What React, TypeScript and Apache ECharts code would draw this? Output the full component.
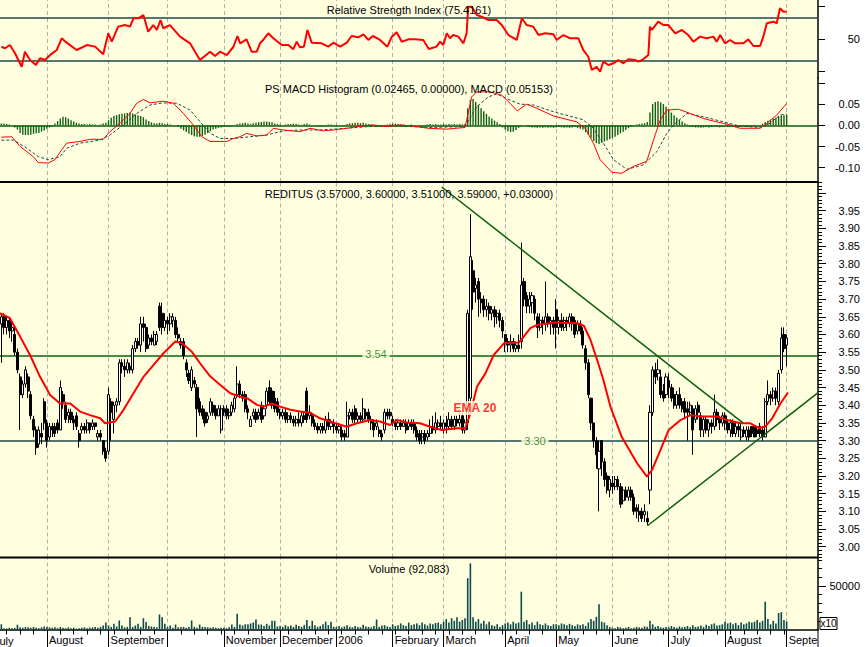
import React, { useEffect, useRef } from 'react';
import * as echarts from 'echarts';

const FONT = 'Liberation Sans, Arial, Helvetica, sans-serif';

// trading-day index of the first session of each month (Aug 2005 .. Sep 2006)
const monthStarts = [17, 40, 62, 83, 104, 125, 146, 165, 188, 207, 228, 249, 270, 293];
const monthLabels = ['August', 'September', '', 'November', 'December', '2006', 'February', 'March', 'April', 'May', 'June', 'July', 'August', 'Septe'];

const priceLabels = ['3.00', '3.05', '3.10', '3.15', '3.20', '3.25', '3.30', '3.35', '3.40', '3.45', '3.50', '3.55', '3.60', '3.65', '3.70', '3.75', '3.80', '3.85', '3.90', '3.95'];
const macdLabels = ['0.05', '0.00', '-0.05', '-0.10'];
const rsiLabels = ['50'];
const volumeLabels = ['50000'];

// candles [open, close, low, high]
const jul05 = [[3.63,3.65,3.52,3.66],[3.65,3.62,3.60,3.66],[3.62,3.64,3.60,3.65],[3.64,3.61,3.59,3.65],[3.61,3.62,3.58,3.64],[3.60,3.55,3.54,3.62],[3.55,3.50,3.49,3.56],[3.48,3.43,3.33,3.49],[3.43,3.46,3.42,3.47],[3.46,3.50,3.45,3.51],[3.48,3.44,3.42,3.49],[3.43,3.37,3.36,3.44],[3.36,3.33,3.31,3.37],[3.33,3.28,3.26,3.34],[3.29,3.33,3.28,3.34],[3.32,3.31,3.29,3.35],[3.41,3.35,3.33,3.42]];
const aug05 = [[3.35,3.30,3.28,3.36],[3.31,3.34,3.30,3.35],[3.34,3.33,3.31,3.35],[3.34,3.32,3.31,3.35],[3.35,3.33,3.32,3.36],[3.33,3.45,3.33,3.47],[3.43,3.41,3.39,3.44],[3.40,3.36,3.35,3.41],[3.37,3.38,3.35,3.39],[3.38,3.36,3.35,3.39],[3.36,3.35,3.33,3.37],[3.37,3.34,3.33,3.38],[3.32,3.30,3.28,3.33],[3.33,3.34,3.32,3.35],[3.34,3.33,3.32,3.35],[3.33,3.35,3.32,3.36],[3.35,3.33,3.32,3.35],[3.34,3.35,3.33,3.36],[3.35,3.34,3.33,3.35],[3.31,3.32,3.30,3.33],[3.32,3.31,3.30,3.33],[3.30,3.27,3.26,3.30],[3.27,3.25,3.24,3.28]];
const sep05 = [[3.27,3.43,3.26,3.45],[3.41,3.38,3.30,3.42],[3.36,3.40,3.32,3.41],[3.40,3.41,3.38,3.42],[3.41,3.52,3.40,3.53],[3.52,3.51,3.49,3.53],[3.51,3.50,3.48,3.53],[3.50,3.52,3.49,3.53],[3.51,3.50,3.49,3.52],[3.50,3.56,3.49,3.57],[3.56,3.58,3.55,3.59],[3.58,3.57,3.56,3.59],[3.57,3.63,3.55,3.65],[3.63,3.62,3.58,3.65],[3.62,3.56,3.55,3.63],[3.57,3.59,3.56,3.60],[3.59,3.58,3.57,3.60],[3.57,3.60,3.57,3.61],[3.58,3.60,3.57,3.61],[3.68,3.62,3.61,3.69],[3.66,3.62,3.60,3.69],[3.62,3.64,3.61,3.66]];
const oct05 = [[3.64,3.63,3.60,3.65],[3.63,3.65,3.61,3.66],[3.64,3.65,3.62,3.66],[3.64,3.60,3.59,3.65],[3.60,3.59,3.58,3.62],[3.58,3.57,3.56,3.59],[3.58,3.54,3.53,3.59],[3.52,3.50,3.48,3.53],[3.49,3.47,3.46,3.50],[3.45,3.50,3.44,3.51],[3.47,3.46,3.45,3.48],[3.45,3.39,3.31,3.46],[3.41,3.38,3.37,3.42],[3.39,3.37,3.36,3.40],[3.38,3.35,3.34,3.39],[3.36,3.37,3.35,3.38],[3.38,3.41,3.37,3.42],[3.40,3.38,3.37,3.41],[3.39,3.37,3.36,3.40],[3.37,3.39,3.37,3.40],[3.33,3.39,3.32,3.40]];
const nov05 = [[3.39,3.38,3.37,3.40],[3.39,3.37,3.36,3.40],[3.37,3.38,3.36,3.39],[3.38,3.40,3.37,3.41],[3.39,3.42,3.38,3.43],[3.43,3.46,3.42,3.51],[3.46,3.43,3.42,3.47],[3.43,3.42,3.41,3.44],[3.43,3.39,3.38,3.44],[3.39,3.38,3.36,3.40],[3.34,3.36,3.34,3.37],[3.37,3.38,3.36,3.39],[3.38,3.36,3.35,3.39],[3.37,3.38,3.36,3.39],[3.40,3.36,3.35,3.41],[3.37,3.39,3.36,3.40],[3.40,3.44,3.39,3.45],[3.45,3.41,3.40,3.47],[3.44,3.40,3.39,3.45],[3.42,3.39,3.38,3.44],[3.41,3.38,3.37,3.42]];
const dec05 = [[3.38,3.37,3.36,3.39],[3.37,3.38,3.36,3.39],[3.38,3.36,3.35,3.39],[3.36,3.37,3.35,3.38],[3.37,3.36,3.35,3.38],[3.36,3.35,3.34,3.37],[3.35,3.36,3.34,3.37],[3.36,3.35,3.34,3.38],[3.35,3.37,3.34,3.38],[3.37,3.36,3.35,3.38],[3.44,3.36,3.35,3.45],[3.37,3.38,3.36,3.40],[3.37,3.35,3.34,3.38],[3.35,3.34,3.33,3.36],[3.34,3.33,3.32,3.35],[3.33,3.34,3.32,3.35],[3.34,3.33,3.32,3.35],[3.33,3.36,3.32,3.37],[3.36,3.34,3.33,3.38],[3.34,3.35,3.33,3.36],[3.35,3.34,3.32,3.36]];
const jan06 = [[3.34,3.33,3.32,3.35],[3.33,3.34,3.32,3.35],[3.33,3.31,3.30,3.34],[3.32,3.31,3.30,3.33],[3.31,3.37,3.31,3.41],[3.37,3.38,3.36,3.39],[3.38,3.36,3.35,3.39],[3.39,3.36,3.35,3.40],[3.36,3.37,3.35,3.38],[3.37,3.36,3.35,3.38],[3.36,3.39,3.35,3.42],[3.38,3.37,3.36,3.39],[3.38,3.36,3.35,3.39],[3.36,3.35,3.33,3.37],[3.35,3.33,3.31,3.36],[3.34,3.35,3.33,3.36],[3.33,3.32,3.31,3.34],[3.32,3.31,3.30,3.33],[3.33,3.38,3.32,3.39],[3.38,3.37,3.36,3.39],[3.38,3.37,3.36,3.39]];
const feb06 = [[3.36,3.35,3.34,3.37],[3.35,3.34,3.33,3.36],[3.34,3.35,3.33,3.36],[3.35,3.34,3.33,3.36],[3.34,3.35,3.34,3.36],[3.35,3.33,3.32,3.36],[3.34,3.35,3.33,3.36],[3.35,3.34,3.33,3.36],[3.35,3.33,3.32,3.36],[3.33,3.31,3.30,3.34],[3.32,3.30,3.29,3.33],[3.31,3.32,3.29,3.33],[3.32,3.30,3.29,3.33],[3.31,3.32,3.30,3.33],[3.32,3.34,3.31,3.36],[3.34,3.33,3.32,3.37],[3.33,3.35,3.32,3.38],[3.34,3.35,3.33,3.36],[3.35,3.34,3.33,3.37]];
const mar06 = [[3.33,3.35,3.32,3.36],[3.35,3.34,3.32,3.37],[3.34,3.36,3.33,3.38],[3.36,3.34,3.33,3.37],[3.34,3.36,3.33,3.37],[3.36,3.35,3.34,3.37],[3.35,3.36,3.34,3.38],[3.37,3.33,3.32,3.38],[3.33,3.35,3.32,3.36],[3.35,3.66,3.33,3.67],[3.42,3.82,3.40,3.94],[3.78,3.72,3.67,3.81],[3.73,3.74,3.69,3.76],[3.75,3.70,3.65,3.76],[3.70,3.69,3.66,3.72],[3.70,3.67,3.65,3.71],[3.67,3.68,3.65,3.70],[3.68,3.66,3.64,3.69],[3.66,3.67,3.64,3.68],[3.67,3.65,3.62,3.68],[3.65,3.66,3.63,3.67],[3.66,3.64,3.62,3.67],[3.64,3.61,3.59,3.65]];
const apr06 = [[3.60,3.58,3.55,3.60],[3.58,3.57,3.55,3.59],[3.57,3.58,3.55,3.60],[3.58,3.56,3.55,3.59],[3.56,3.57,3.55,3.58],[3.57,3.56,3.55,3.60],[3.58,3.74,3.56,3.86],[3.75,3.70,3.68,3.76],[3.71,3.68,3.66,3.72],[3.68,3.70,3.66,3.72],[3.69,3.71,3.66,3.72],[3.70,3.66,3.64,3.71],[3.65,3.62,3.59,3.66],[3.62,3.64,3.61,3.66],[3.64,3.63,3.60,3.65],[3.63,3.65,3.61,3.75],[3.65,3.63,3.62,3.66],[3.63,3.64,3.60,3.65],[3.64,3.62,3.60,3.65]];
const may06 = [[3.67,3.62,3.56,3.70],[3.62,3.64,3.60,3.65],[3.64,3.62,3.61,3.66],[3.62,3.64,3.61,3.65],[3.64,3.63,3.61,3.65],[3.63,3.65,3.62,3.66],[3.65,3.63,3.61,3.66],[3.64,3.60,3.59,3.65],[3.61,3.63,3.60,3.64],[3.63,3.61,3.60,3.64],[3.61,3.57,3.56,3.62],[3.56,3.52,3.50,3.57],[3.52,3.43,3.42,3.53],[3.42,3.35,3.33,3.42],[3.35,3.30,3.28,3.35],[3.30,3.26,3.22,3.31],[3.22,3.27,3.10,3.30],[3.30,3.24,3.20,3.30],[3.24,3.19,3.17,3.25],[3.20,3.16,3.15,3.21],[3.16,3.19,3.14,3.20]];
const jun06 = [[3.18,3.17,3.15,3.20],[3.17,3.19,3.16,3.20],[3.19,3.17,3.16,3.20],[3.17,3.12,3.11,3.18],[3.13,3.16,3.12,3.17],[3.16,3.14,3.13,3.17],[3.14,3.16,3.13,3.17],[3.16,3.14,3.13,3.17],[3.14,3.10,3.09,3.15],[3.11,3.10,3.08,3.12],[3.10,3.09,3.07,3.12],[3.10,3.08,3.07,3.11],[3.09,3.10,3.07,3.12],[3.08,3.07,3.06,3.10],[3.16,3.38,3.12,3.40],[3.38,3.50,3.37,3.51],[3.50,3.48,3.46,3.52],[3.49,3.50,3.47,3.53],[3.48,3.43,3.42,3.50],[3.44,3.42,3.41,3.46],[3.43,3.48,3.42,3.49]];
const jul06 = [[3.47,3.45,3.42,3.49],[3.45,3.42,3.41,3.46],[3.43,3.40,3.39,3.45],[3.40,3.43,3.39,3.44],[3.43,3.40,3.39,3.45],[3.41,3.39,3.38,3.42],[3.41,3.38,3.36,3.42],[3.39,3.38,3.30,3.41],[3.38,3.40,3.37,3.41],[3.39,3.33,3.26,3.40],[3.36,3.39,3.35,3.40],[3.40,3.38,3.36,3.41],[3.37,3.33,3.31,3.38],[3.33,3.36,3.31,3.37],[3.36,3.33,3.32,3.37],[3.33,3.35,3.31,3.36],[3.35,3.34,3.32,3.36],[3.34,3.38,3.33,3.43],[3.38,3.36,3.34,3.39],[3.36,3.35,3.33,3.37],[3.35,3.37,3.34,3.38]];
const aug06 = [[3.37,3.35,3.33,3.38],[3.35,3.33,3.32,3.36],[3.33,3.35,3.31,3.36],[3.35,3.32,3.31,3.36],[3.32,3.34,3.31,3.35],[3.34,3.33,3.31,3.35],[3.31,3.33,3.30,3.35],[3.33,3.32,3.31,3.34],[3.31,3.33,3.30,3.34],[3.33,3.31,3.30,3.34],[3.34,3.32,3.31,3.34],[3.34,3.31,3.31,3.34],[3.33,3.32,3.31,3.34],[3.34,3.32,3.31,3.35],[3.33,3.31,3.30,3.34],[3.31,3.41,3.31,3.42],[3.41,3.43,3.40,3.47],[3.43,3.42,3.40,3.44],[3.42,3.44,3.41,3.45],[3.44,3.42,3.40,3.45],[3.41,3.49,3.40,3.50],[3.50,3.59,3.49,3.62],[3.60,3.56,3.55,3.62]];
const sep06 = [[3.57,3.59,3.51,3.60]];
const candles = [...jul05, ...aug05, ...sep05, ...oct05, ...nov05, ...dec05, ...jan06, ...feb06, ...mar06, ...apr06, ...may06, ...jun06, ...jul06, ...aug06, ...sep06];

// volume (x10 shares), one per session
const volJul05 = [6000,1500,1200,2000,1500,1800,5500,2500,2000,3000,2500,2000,3000,2000,1500,2500,3500];
const volAug05 = [3000,2500,2000,2500,1500,3000,2000,1500,2500,1500,2000,1000,1500,2000,2500,1500,2000,2500,3000,2000,3000,4500,8000];
const volSep05 = [4600,3000,6500,3500,10400,4600,2500,3000,14200,3000,4600,6500,3000,13000,8500,4000,3500,3000,2500,17300,14200,6500];
const volOct05 = [3000,4600,2000,5700,2500,3000,3000,2000,3000,10400,3000,2000,5700,3000,3000,2500,2000,2500,2000,1500,2000];
const volNov05 = [2000,1500,2500,5700,3000,18100,5700,4600,6000,6000,7000,8000,11500,5700,5700,4000,6500,4600,10000,10000,3500];
const volDec05 = [4000,3000,5000,3500,4500,3000,5500,4000,3000,5000,11000,4000,10000,5000,3000,4000,6000,9000,5000,9000,3000];
const volJan06 = [3000,4000,2500,3500,5000,3000,2500,4000,3000,2500,5500,3500,3000,2500,4000,11500,3000,4500,5000,3500,3000];
const volFeb06 = [6000,4000,5000,7000,5000,4000,8000,5000,6000,7000,5000,8000,6000,4500,7000,6000,7500,8000,6000];
const volMar06 = [9000,12000,8000,13000,10000,14000,9000,11000,13000,59000,76000,14000,9000,12000,7000,10000,6000,9000,5000,4000,6000,3000,5000];
const volApr06 = [7000,8000,6000,9000,7000,8000,43500,9000,11000,6000,8000,5000,9000,6000,5000,7000,5000,4000,6000];
const volMay06 = [6000,5000,7000,6000,5000,6500,5000,4000,6000,5000,6000,4000,8000,12000,10000,14600,29000,9000,8000,5000,3000];
const volJun06 = [2000,1500,3000,2500,1500,2000,3000,1500,2000,3000,2500,2000,3500,3000,10000,6000,3000,4000,2500,2000,3000];
const volJul06 = [2500,4000,3000,2000,3500,2500,3000,4000,2500,5000,3000,3500,4500,3000,5500,4000,6000,7000,4500,5000,6000];
const volAug06 = [9000,7000,8000,6000,7500,5000,8000,6000,7000,9000,8000,9000,11000,8000,10000,32000,12000,6000,10000,7000,19000,20000,11000];
const volSep06 = [9208];
const volumes = [...volJul05, ...volAug05, ...volSep05, ...volOct05, ...volNov05, ...volDec05, ...volJan06, ...volFeb06, ...volMar06, ...volApr06, ...volMay06, ...volJun06, ...volJul06, ...volAug06, ...volSep06];

// PS MACD histogram, one per session
const histA = [0.004,0.004,0.003,0.002,0.000,-0.005,-0.010,-0.018,-0.022,-0.023,-0.023,-0.022,-0.020,-0.019,-0.018,-0.015,-0.012,
  -0.008,-0.005,-0.002,0.004,0.010,0.016,0.020,0.019,0.016,0.012,0.009,0.006,0.004,0.003,0.003,0.002,0.003,0.002,0.002,0.001,0.002,0.004,0.006,
  0.012,0.018,0.022,0.024,0.026,0.027,0.028,0.029,0.030,0.028,0.026,0.024,0.022,0.019,0.014,0.010,0.007,0.005,0.004,0.006,0.005,0.003,
  0.003,0.002,0.001,0.000,-0.004,-0.008,-0.012,-0.016,-0.020,-0.023,-0.026,-0.027,-0.027,-0.025,-0.022,-0.018,-0.014,-0.010,-0.008,-0.006,-0.005];
const histB = [-0.004,-0.003,-0.003,-0.002,0.001,0.003,0.004,0.005,0.006,0.004,0.003,0.005,0.006,0.007,0.008,0.009,0.009,0.008,0.007,0.004,0.003,
  0.002,0.001,0.002,0.003,0.003,0.004,0.003,0.002,0.001,0.003,0.004,0.002,0.000,-0.001,-0.002,-0.002,-0.001,0.001,0.002,0.002,0.001,
  0.001,0.000,-0.001,0.001,0.003,0.004,0.005,0.006,0.006,0.005,0.006,0.004,0.003,0.002,0.001,-0.001,-0.002,-0.001,0.001,0.002,0.003,
  0.004,0.004,0.003,0.002,0.002,0.001,0.001,0.002,0.001,0.000,-0.001,-0.001,0.001,0.002,0.003,0.002,0.003,0.002,0.002];
const histC = [0.003,0.002,0.003,0.002,0.003,0.002,0.003,0.002,0.003,0.040,0.060,0.062,0.055,0.048,0.040,0.033,0.027,0.021,0.016,0.011,0.007,0.003,-0.005,
  -0.010,-0.014,-0.016,-0.015,-0.011,-0.006,-0.002,0.000,-0.003,-0.004,-0.005,-0.005,-0.006,-0.005,-0.006,-0.005,-0.006,-0.005,-0.006,
  -0.005,-0.004,-0.005,-0.006,-0.005,-0.006,-0.005,-0.004,-0.006,-0.008,-0.010,-0.016,-0.022,-0.030,-0.037,-0.042,-0.044,-0.041,-0.038,-0.036,-0.033];
const histD = [-0.030,-0.027,-0.023,-0.019,-0.015,-0.011,-0.007,-0.003,0.001,0.002,0.003,0.004,0.005,0.008,0.030,0.050,0.055,0.057,0.054,0.050,0.044,
  0.037,0.030,0.024,0.018,0.013,0.009,0.005,0.002,-0.003,-0.004,-0.005,-0.005,-0.006,-0.005,-0.004,-0.005,-0.004,-0.003,-0.004,-0.005,-0.004,
  -0.003,-0.004,-0.003,-0.004,-0.005,-0.004,-0.003,-0.002,-0.003,-0.004,-0.003,-0.002,-0.001,0.001,0.004,0.008,0.011,0.013,0.016,0.018,0.021,0.023,0.024,
  0.025];
const macdHist = [...histA, ...histB, ...histC, ...histD];

// [session index, value] vertices
const rsiLine = [[0,42.6],[1.4,41.2],[3.2,44.2],[5.1,36.5],[7.6,24],[8.8,38],[10.7,30.3],[12.9,25.6],[14.4,31.9],[16.3,30.3],[18.2,35],[20.7,39.6],[22.5,50.5],[24.4,46.4],[28.1,39.6],[31.9,44.2],[35,42.7],[38,35.6],[39.9,55.1],[41.2,47.3],[43.6,61.3],[46.1,62.8],[48,61.3],[49.3,69.1],[51.1,69],[53,72.1],[54.8,56.6],[56.7,62.8],[58,58.2],[59.4,67.5],[60.4,59.8],[62.9,62.8],[66.7,52],[70.4,45.8],[74.1,30.3],[77.9,38],[79.7,34],[81.6,38],[84.1,34.9],[86.6,42.6],[88.1,52.6],[89.1,45.8],[91.5,49.5],[93.4,38],[95.3,38],[96.5,45.8],[97.7,48.9],[99.6,55.1],[101.5,50.5],[104.6,44.2],[107.1,44.2],[108.9,40.2],[110.2,47.3],[111.4,42.1],[112.9,42.7],[114.2,58.2],[115.8,46.4],[119.5,45.8],[122,42.7],[123.9,46.4],[126.4,42.7],[128.9,46.4],[130.7,52.6],[133.2,51.4],[135.1,54.2],[136.9,48.9],[138.6,52.6],[141.3,48.9],[144,42.7],[145.7,52],[147.5,56],[149.4,47.3],[151.9,49.5],[154.4,49.5],[157.4,48.9],[159.5,40.5],[162.4,42.7],[163.7,47.3],[164.9,44.2],[166.2,55.1],[167.4,50.5],[168.6,53.5],[170.5,52],[172.4,45.8],[173.6,55.1],[174.2,79.9],[175.5,79.9],[177.4,72.1],[179.2,70.6],[181.7,67.5],[184.8,67.5],[186.7,62.8],[189.2,53.5],[192.3,48.9],[194.2,69.1],[196,62.8],[198.5,61.3],[200.4,53.5],[202.9,55.1],[206,54.2],[207.2,48.9],[209.7,53.5],[212.2,50.5],[215.3,50.5],[217.1,39.6],[219,33.3],[220.3,21],[222.1,24],[223.4,19.4],[224.6,28.7],[226.5,25.6],[228.4,27.2],[230.2,30.3],[232.1,27.2],[234,30.9],[236.4,30.3],[237.7,28.7],[239.5,30.9],[241.4,35],[242,61.3],[242.7,58.2],[245.1,65.9],[247,62.8],[248.9,62.8],[251.4,55.1],[253.9,58.2],[256.3,53.5],[258.2,47.3],[260.7,52],[263.2,50.5],[265.7,52],[266.9,47.3],[268.2,53.5],[270,45.8],[271.9,48.9],[273.8,45.8],[276.9,45.8],[278.7,49.5],[280.6,43.3],[283.1,43.3],[284.3,52],[285.6,64.4],[288.1,65.9],[289.3,64.4],[290.5,78.4],[291.8,75.2],[293,75.4]];
const macdLine = [[0,-0.028],[3.9,-0.027],[7,-0.05],[9.5,-0.062],[11.9,-0.074],[13.8,-0.088],[17.5,-0.089],[20,-0.081],[22.5,-0.058],[24.4,-0.042],[29.4,-0.038],[33.1,-0.033],[38,-0.033],[40.5,-0.015],[44.3,0.005],[48,0.028],[50.5,0.052],[53,0.061],[55.5,0.053],[60.4,0.057],[64.2,0.052],[67.9,0.028],[71.6,0.001],[74.8,-0.027],[77.9,-0.038],[84.1,-0.038],[86.6,-0.031],[89.1,-0.027],[91.5,-0.019],[95.3,-0.025],[99,-0.023],[101.5,-0.007],[105.2,-0.011],[111.4,-0.015],[115.2,-0.007],[120.1,-0.013],[123.9,-0.011],[128.9,-0.007],[133.8,-0.002],[138.8,0.001],[143.8,-0.003],[148.8,0.001],[153.7,-0.002],[159.3,-0.007],[166.2,-0.009],[173,-0.005],[175.5,0.067],[177.4,0.079],[182.3,0.079],[186.7,0.071],[189.8,0.052],[192.5,0.034],[196,0.05],[199.8,0.04],[206,0.022],[214.7,0.008],[217.8,-0.007],[220.9,-0.042],[223.4,-0.081],[227.8,-0.111],[231.5,-0.113],[235.8,-0.097],[240.8,-0.085],[243.3,-0.035],[245.8,0.012],[248.3,0.036],[252.6,0.038],[257,0.028],[262,0.016],[267,0.008],[271.9,0.001],[275.6,-0.007],[283.1,-0.007],[285.6,0.005],[289.3,0.024],[293,0.0515]];
const signalLine = [[0,-0.035],[4.5,-0.035],[9.5,-0.054],[13.8,-0.074],[17.5,-0.081],[21.9,-0.074],[24.4,-0.054],[29.4,-0.042],[36.8,-0.035],[40.5,-0.023],[45.5,0.001],[50.5,0.028],[55.5,0.048],[60.4,0.053],[65.5,0.052],[70.4,0.036],[74.1,0.009],[78,-0.019],[81.6,-0.031],[86.6,-0.031],[92.8,-0.027],[99,-0.023],[105.2,-0.013],[111.4,-0.011],[118.9,-0.011],[128.9,-0.007],[138.8,-0.002],[148.8,-0.002],[159.3,-0.005],[173,-0.003],[177.4,0.044],[181.7,0.067],[184.8,0.074],[188.5,0.063],[193.5,0.05],[198.5,0.048],[206,0.032],[217.1,0.013],[220.9,-0.007],[224.6,-0.042],[228.4,-0.081],[233.4,-0.104],[239.6,-0.093],[244.6,-0.062],[248.3,-0.019],[250.8,0.001],[255.8,0.028],[262,0.02],[269.5,0.008],[275.6,-0.002],[283.1,-0.005],[286.8,0.005],[290.5,0.024],[293,0.027]];
const ema20 = [[-0.5,3.66],[3.2,3.646],[7,3.594],[10.7,3.542],[14.4,3.481],[18.2,3.429],[21.9,3.405],[25.7,3.405],[29.4,3.382],[33.1,3.372],[36.9,3.363],[38.7,3.349],[42.5,3.354],[45.6,3.387],[49.3,3.434],[53.1,3.481],[56.8,3.514],[60.5,3.547],[64.9,3.58],[67.4,3.575],[71.1,3.551],[74.2,3.518],[78,3.481],[81.7,3.457],[85.4,3.434],[89.2,3.424],[91.7,3.42],[95.4,3.401],[97.9,3.396],[101,3.405],[104.1,3.396],[107.8,3.387],[111.5,3.382],[115.1,3.379],[118.9,3.363],[122.6,3.354],[128.8,3.339],[132.6,3.349],[137.6,3.358],[141.3,3.354],[145,3.344],[147.5,3.358],[151.3,3.351],[156.2,3.349],[160,3.339],[164.3,3.33],[169.9,3.335],[173.1,3.335],[175,3.377],[177.5,3.453],[180.6,3.49],[183.7,3.542],[187.5,3.575],[193.1,3.577],[197.4,3.618],[199.9,3.627],[206.1,3.634],[214.9,3.632],[217.4,3.624],[219.8,3.585],[222.3,3.528],[224.5,3.475],[227.3,3.395],[231.5,3.31],[237.2,3.236],[240.9,3.198],[242.8,3.217],[245.9,3.273],[249,3.33],[253.4,3.358],[257.1,3.372],[260.9,3.368],[267.1,3.368],[270.8,3.358],[275.8,3.349],[279.5,3.349],[282.7,3.335],[285.1,3.34],[287.6,3.363],[290.7,3.405],[293.5,3.436]];
const resistanceLine = [[164.3, 4.017], [276.7, 3.35]];
const supportLine = [[241.2, 3.06], [304.5, 3.434]];
const levelHigh = 3.54;
const levelLow = 3.30;

const X_MIN = -0.5;
const X_MAX = 304.7;
const BG = '#ffffe0';

function buildOption() {
  const weekTicks = Array.from({ length: 59 }, (_, k) => 2 + 5 * k);
  const priceMajor = [...priceLabels.map(Number), 4.0];
  const priceMinor = Array.from({ length: 107 }, (_, k) => Math.round((2.97 + 0.01 * k) * 100) / 100);
  const gridMarks = monthStarts.map((v) => ({ xAxis: v }));
  const dashed = { color: '#b0b0b0', type: [4, 3], width: 1 };
  const labelMonthValues = monthStarts.filter((_, i) => monthLabels[i] !== '');
  const off = { show: false };

  const rightAxisBase = {
    type: 'value',
    position: 'right',
    splitLine: off, minorTick: off, minorSplitLine: off, splitArea: off,
    axisLine: { show: true, onZero: false, lineStyle: { color: '#000', width: 1.5 } },
    axisLabel: { align: 'right', margin: 42, fontSize: 11, color: '#000', fontFamily: FONT },
  };
  const minorAxis = (gridIndex: number, min: number, max: number, ticks: number[]) => ({
    type: 'value', position: 'right', gridIndex, min, max,
    axisLine: { show: false, onZero: false }, splitLine: off, minorTick: off, minorSplitLine: off, splitArea: off,
    axisLabel: { show: false },
    axisTick: { show: true, length: 4, customValues: ticks, lineStyle: { color: '#000' } },
  });
  const hiddenX = (gridIndex: number) => ({
    type: 'value', gridIndex, min: X_MIN, max: X_MAX, show: false,
    axisLine: { show: false, onZero: false }, axisTick: off, axisLabel: off, splitLine: off, minorTick: off, minorSplitLine: off,
  });

  const grids = [
    { left: 0, top: 0, width: 818, height: 78 },
    { left: 0, top: 78, width: 818, height: 104 },
    { left: 0, top: 182, width: 818, height: 375.5 },
    { left: 0, top: 557.5, width: 818, height: 72 },
  ].map((g) => ({ ...g, show: true, backgroundColor: BG, borderWidth: 0, containLabel: false, outerBoundsMode: 'none' }));

  const markBase = {
    silent: true, symbol: ['none', 'none'], z: 1, label: { show: false }, lineStyle: dashed, animation: false,
    emphasis: { disabled: true },
  };

  return {
    animation: false,
    backgroundColor: '#ffffff',
    textStyle: { fontFamily: FONT },
    grid: grids,
    xAxis: [
      hiddenX(0),
      hiddenX(1),
      hiddenX(2),
      {
        type: 'value', gridIndex: 3, min: X_MIN, max: X_MAX, position: 'bottom',
        axisLine: { show: true, onZero: false, lineStyle: { color: '#000', width: 1.5 } },
        axisTick: { show: true, length: 5, customValues: weekTicks, lineStyle: { color: '#000' } },
        axisLabel: { show: false },
        splitLine: off, minorTick: off, minorSplitLine: off,
      },
      {
        type: 'value', gridIndex: 3, min: X_MIN, max: X_MAX, position: 'bottom',
        axisLine: { show: false, onZero: false },
        axisTick: { show: true, length: 18, customValues: monthStarts, lineStyle: { color: '#000' } },
        axisLabel: {
          show: true, customValues: labelMonthValues, align: 'left', margin: 5, padding: [0, 0, 0, 2],
          fontSize: 11, color: '#000', fontFamily: FONT,
          formatter: (v: number) => monthLabels[monthStarts.indexOf(Math.round(v))] || '',
        },
        splitLine: off, minorTick: off, minorSplitLine: off,
      },
    ],
    yAxis: [
      {
        ...rightAxisBase, gridIndex: 0, min: 13.53, max: 86.09,
        axisTick: { show: true, length: 7, customValues: [20, 50, 80], lineStyle: { color: '#000' } },
        axisLabel: { ...rightAxisBase.axisLabel, customValues: rsiLabels.map(Number), formatter: (v: number) => String(Math.round(v)) },
      },
      {
        ...rightAxisBase, gridIndex: 1, min: -0.1337, max: 0.1116,
        axisTick: { show: true, length: 7, customValues: [0.1, 0.05, 0, -0.05, -0.1], lineStyle: { color: '#000' } },
        axisLabel: { ...rightAxisBase.axisLabel, customValues: macdLabels.map(Number), formatter: (v: number) => v.toFixed(2) },
      },
      {
        ...rightAxisBase, gridIndex: 2, min: 2.9695, max: 4.0311,
        axisTick: { show: true, length: 8, customValues: priceMajor, lineStyle: { color: '#000' } },
        axisLabel: { ...rightAxisBase.axisLabel, customValues: priceLabels.map(Number), formatter: (v: number) => v.toFixed(2) },
      },
      minorAxis(2, 2.9695, 4.0311, priceMinor),
      {
        ...rightAxisBase, gridIndex: 3, min: 0, max: 82800,
        axisTick: { show: true, length: 8, customValues: [50000], lineStyle: { color: '#000' } },
        axisLabel: { ...rightAxisBase.axisLabel, customValues: volumeLabels.map(Number), formatter: (v: number) => String(Math.round(v)) },
      },
      minorAxis(3, 0, 82800, [10000, 20000, 30000, 40000, 60000, 70000, 80000]),
    ],
    series: [
      {
        type: 'line', name: 'RSI', xAxisIndex: 0, yAxisIndex: 0, data: rsiLine, symbol: 'none', z: 3,
        lineStyle: { color: '#ff0000', width: 2 }, silent: true,
        markLine: {
          ...markBase,
          data: [
            ...gridMarks,
            { yAxis: 70, lineStyle: { color: '#1d4a4a', type: 'solid', width: 1.5 } },
            { yAxis: 30, lineStyle: { color: '#1d4a4a', type: 'solid', width: 1.5 } },
          ],
        },
      },
      {
        type: 'bar', name: 'Histogram', xAxisIndex: 1, yAxisIndex: 1, barWidth: 1.4, z: 2,
        data: macdHist.map((v, i) => [i, v]), itemStyle: { color: '#0f5f0f' }, silent: true,
        markLine: {
          ...markBase,
          data: [...gridMarks, { yAxis: 0, lineStyle: { color: '#0b5a0b', type: 'solid', width: 1.5 } }],
        },
      },
      {
        type: 'line', name: 'Signal', xAxisIndex: 1, yAxisIndex: 1, data: signalLine, symbol: 'none', z: 3,
        lineStyle: { color: '#1d4a4a', width: 1, type: [3, 2] }, silent: true,
      },
      {
        type: 'line', name: 'MACD', xAxisIndex: 1, yAxisIndex: 1, data: macdLine, symbol: 'none', z: 4,
        lineStyle: { color: '#ff0000', width: 1 }, silent: true,
      },
      {
        type: 'candlestick', name: 'REDITUS', xAxisIndex: 2, yAxisIndex: 2, barWidth: 2.6, z: 2,
        encode: { x: 0, y: [1, 2, 3, 4] },
        data: candles.map((c, i) => [i, c[0], c[1], c[2], c[3]]),
        itemStyle: { color: '#ffffff', color0: '#000000', borderColor: '#000000', borderColor0: '#000000', borderWidth: 1 },
        silent: true,
      },
      {
        type: 'line', name: 'EMA 20', xAxisIndex: 2, yAxisIndex: 2, data: ema20, symbol: 'none', z: 4,
        lineStyle: { color: '#ff0000', width: 2 }, silent: true,
        markLine: {
          ...markBase,
          data: [
            ...gridMarks,
            { yAxis: levelHigh, lineStyle: { color: '#0b640b', type: 'solid', width: 1.5 } },
            { yAxis: levelLow, lineStyle: { color: '#1d4a4a', type: 'solid', width: 1.5 } },
          ],
        },
      },
      {
        type: 'line', name: 'Resistance', xAxisIndex: 2, yAxisIndex: 2, data: resistanceLine, symbol: 'none', z: 5,
        lineStyle: { color: '#0b5f0b', width: 1.5 }, silent: true,
      },
      {
        type: 'line', name: 'Support', xAxisIndex: 2, yAxisIndex: 2, data: supportLine, symbol: 'none', z: 5,
        lineStyle: { color: '#0b5f0b', width: 1.5 }, silent: true,
      },
      {
        type: 'scatter', name: 'Labels', xAxisIndex: 2, yAxisIndex: 2, symbol: 'rect', symbolSize: 1, z: 10, silent: true,
        itemStyle: { color: 'rgba(0,0,0,0)' },
        data: [
          { value: [139.8, levelHigh], label: { formatter: '3.54', color: '#127a12', fontSize: 11, offset: [0, -2] } },
          { value: [199.1, levelLow], label: { formatter: '3.30', color: '#127a12', fontSize: 11 } },
          { value: [176.7, 3.392], label: { formatter: 'EMA 20', color: '#ff0000', fontSize: 12, fontWeight: 'bold' } },
        ],
        label: { show: true, position: 'inside', backgroundColor: BG, padding: [1, 3], fontFamily: FONT },
      },
      {
        type: 'bar', name: 'Volume', xAxisIndex: 3, yAxisIndex: 4, barWidth: 1.6, z: 2,
        data: volumes.map((v, i) => [i, v]), itemStyle: { color: '#0b4a4a' }, silent: true,
        markLine: { ...markBase, data: gridMarks },
      },
    ],
    graphic: [
      { type: 'line', z: 100, shape: { x1: 0, y1: 182, x2: 818, y2: 182 }, style: { stroke: '#000', lineWidth: 2 } },
      { type: 'line', z: 100, shape: { x1: 0, y1: 557.5, x2: 818, y2: 557.5 }, style: { stroke: '#000', lineWidth: 2 } },
      { type: 'line', z: 100, shape: { x1: 818, y1: 629.5, x2: 818, y2: 647 }, style: { stroke: '#000', lineWidth: 1 } },
      { type: 'text', z: 100, x: 409, y: 10, style: { text: 'Relative Strength Index (75.4161)', align: 'center', verticalAlign: 'middle', fontSize: 11, fontFamily: FONT, fill: '#000' } },
      { type: 'text', z: 100, x: 409, y: 89, style: { text: 'PS MACD Histogram (0.02465, 0.00000), MACD (0.05153)', align: 'center', verticalAlign: 'middle', fontSize: 11, fontFamily: FONT, fill: '#000' } },
      { type: 'text', z: 100, x: 409, y: 194, style: { text: 'REDITUS (3.57000, 3.60000, 3.51000, 3.59000, +0.03000)', align: 'center', verticalAlign: 'middle', fontSize: 11, fontFamily: FONT, fill: '#000' } },
      { type: 'text', z: 100, x: 409, y: 569, style: { text: 'Volume (92,083)', align: 'center', verticalAlign: 'middle', fontSize: 11, fontFamily: FONT, fill: '#000' } },
      { type: 'text', z: 100, x: -6, y: 641, style: { text: 'July', align: 'left', verticalAlign: 'middle', fontSize: 11, fontFamily: FONT, fill: '#000' } },
      { type: 'rect', z: 100, shape: { x: 820, y: 617.5, width: 17, height: 12 }, style: { fill: '#ffffff', stroke: '#000', lineWidth: 1 } },
      { type: 'text', z: 101, x: 828.5, y: 623.5, style: { text: 'x10', align: 'center', verticalAlign: 'middle', fontSize: 10, fontFamily: FONT, fill: '#000' } },
    ],
  };
}

export default function App() {
  const ref = useRef<HTMLDivElement>(null);
  useEffect(() => {
    if (!ref.current) return;
    const chart = echarts.init(ref.current, null, { renderer: 'svg' });
    chart.setOption(buildOption() as any);
    return () => chart.dispose();
  }, []);
  return (
    <div
      ref={ref}
      style={{ position: 'absolute', left: 0, top: 0, width: 865, height: 647, background: '#ffffff' }}
    />
  );
}
